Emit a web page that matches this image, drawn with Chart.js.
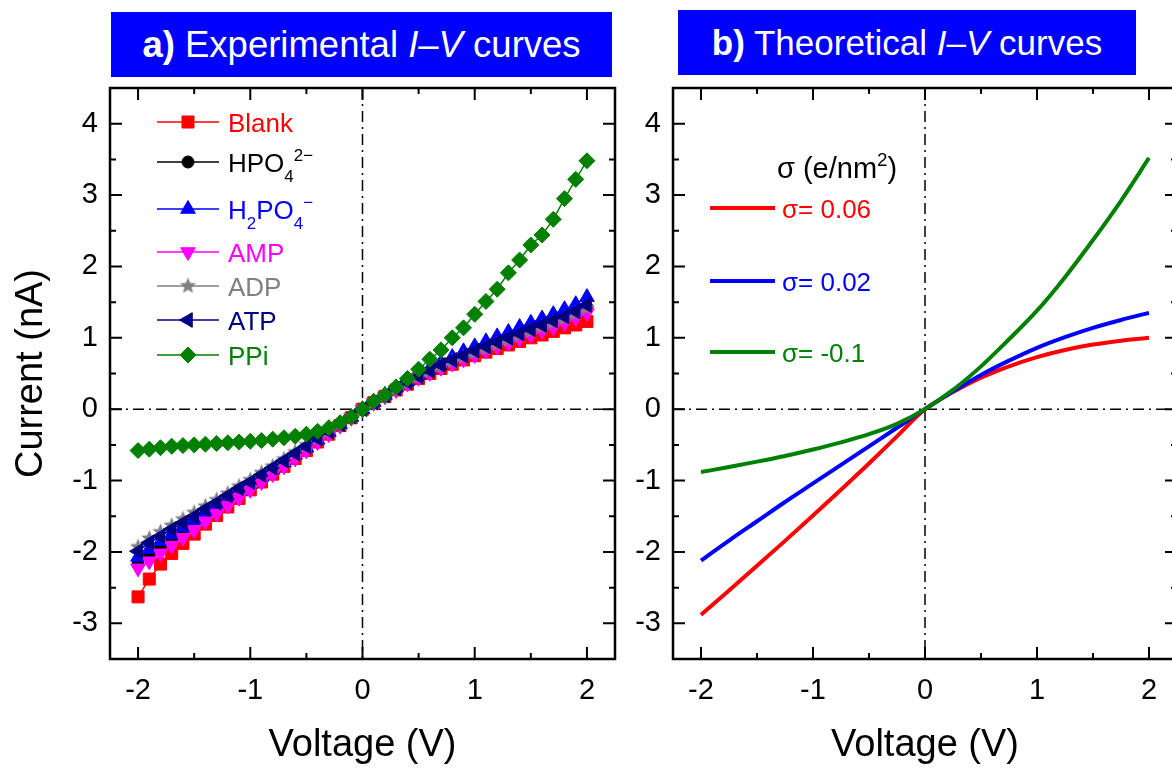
<!DOCTYPE html>
<html>
<head>
<meta charset="utf-8">
<script src="https://cdn.jsdelivr.net/npm/chart.js@4/dist/chart.umd.min.js"></script>
<style>
    html, body { margin: 0; padding: 0; background: #fff; }
    body { position: relative; width: 1172px; height: 769px; overflow: hidden; font-family: "Liberation Sans", Arial, sans-serif; }
    .panel-title { position: absolute; background: #0000ff; color: #fff; font-size: 35px; white-space: pre;
        display: flex; align-items: center; justify-content: center; }
    canvas { position: absolute; top: 0; }
</style>
</head>
<body>
<div class="panel-title" style="left:111px; top:12px; width:501px; height:65px; font-size:36.5px;"><b>a)</b> Experimental <i>I</i>–<i>V</i> curves</div>
<div class="panel-title" style="left:678px; top:10px; width:458px; height:65px;"><b>b)</b> Theoretical <i>I</i>–<i>V</i> curves</div>
<canvas id="chartA" width="640" height="769" style="left:0;"></canvas>
<canvas id="chartB" width="640" height="769" style="left:560px;"></canvas>
<script>
// tick labels
const xTickValues = [-2, -1, 0, 1, 2];
const xMinorValues = [-1.5, -0.5, 0.5, 1.5];
const yTickValues = [-3, -2, -1, 0, 1, 2, 3, 4];
const yMinorValues = [-2.5, -1.5, -0.5, 0.5, 1.5, 2.5, 3.5];

// a) experimental, voltage in V, current in nA
const voltages = [-2.0, -1.9, -1.8, -1.7, -1.6, -1.5, -1.4, -1.3, -1.2, -1.1, -1.0, -0.9, -0.8, -0.7, -0.6, -0.5, -0.4, -0.3, -0.2, -0.1,
    0.0, 0.1, 0.2, 0.3, 0.4, 0.5, 0.6, 0.7, 0.8, 0.9, 1.0, 1.1, 1.2, 1.3, 1.4, 1.5, 1.6, 1.7, 1.8, 1.9, 2.0];
const blank = [-2.63, -2.38, -2.17, -2.02, -1.88, -1.75, -1.61, -1.49, -1.37, -1.25, -1.13, -1.02, -0.91, -0.80, -0.69, -0.58, -0.46, -0.35, -0.23, -0.12,
    0.00, 0.09, 0.18, 0.27, 0.35, 0.43, 0.50, 0.57, 0.63, 0.69, 0.75, 0.80, 0.85, 0.90, 0.95, 1.00, 1.04, 1.09, 1.14, 1.18, 1.23];
const hpo4 = [-2.17, -2.04, -1.92, -1.81, -1.70, -1.59, -1.48, -1.38, -1.27, -1.17, -1.07, -0.96, -0.86, -0.76, -0.65, -0.55, -0.44, -0.33, -0.22, -0.11,
    0.00, 0.09, 0.19, 0.28, 0.37, 0.45, 0.53, 0.60, 0.67, 0.74, 0.80, 0.86, 0.92, 0.98, 1.04, 1.10, 1.16, 1.22, 1.28, 1.35, 1.43];
const h2po4 = [-2.07, -1.96, -1.85, -1.75, -1.65, -1.55, -1.45, -1.35, -1.25, -1.15, -1.05, -0.95, -0.85, -0.75, -0.64, -0.54, -0.43, -0.32, -0.21, -0.11,
    0.00, 0.10, 0.20, 0.30, 0.39, 0.48, 0.57, 0.65, 0.73, 0.81, 0.88, 0.95, 1.02, 1.08, 1.15, 1.21, 1.27, 1.33, 1.40, 1.47, 1.57];
const amp = [-2.23, -2.13, -2.02, -1.91, -1.80, -1.69, -1.57, -1.46, -1.35, -1.24, -1.13, -1.02, -0.91, -0.80, -0.69, -0.58, -0.46, -0.35, -0.23, -0.12,
    0.00, 0.09, 0.18, 0.27, 0.36, 0.44, 0.51, 0.58, 0.64, 0.70, 0.76, 0.82, 0.88, 0.93, 0.99, 1.04, 1.10, 1.15, 1.21, 1.28, 1.35];
const adp = [-1.93, -1.81, -1.72, -1.63, -1.54, -1.45, -1.36, -1.27, -1.18, -1.08, -0.99, -0.89, -0.80, -0.70, -0.60, -0.50, -0.40, -0.30, -0.20, -0.10,
    0.00, 0.09, 0.19, 0.28, 0.37, 0.45, 0.53, 0.60, 0.67, 0.73, 0.79, 0.85, 0.91, 0.97, 1.03, 1.09, 1.15, 1.21, 1.27, 1.34, 1.42];
const atp = [-1.99, -1.87, -1.78, -1.68, -1.59, -1.50, -1.40, -1.31, -1.21, -1.11, -1.02, -0.92, -0.82, -0.72, -0.62, -0.52, -0.41, -0.31, -0.21, -0.10,
    0.00, 0.09, 0.19, 0.29, 0.38, 0.46, 0.54, 0.62, 0.69, 0.75, 0.82, 0.88, 0.94, 1.00, 1.06, 1.12, 1.18, 1.24, 1.30, 1.37, 1.46];
const ppi = [-0.58, -0.56, -0.54, -0.52, -0.51, -0.50, -0.49, -0.48, -0.47, -0.46, -0.45, -0.44, -0.42, -0.40, -0.38, -0.35, -0.31, -0.26, -0.19, -0.11,
    0.00, 0.11, 0.20, 0.31, 0.43, 0.56, 0.70, 0.83, 1.00, 1.14, 1.33, 1.51, 1.68, 1.91, 2.09, 2.30, 2.44, 2.66, 2.95, 3.22, 3.48];

// b) theoretical, sigma in e/nm^2
const theoryVoltages = [-2.0, -1.75, -1.5, -1.25, -1.0, -0.75, -0.5, -0.25, 0.0, 0.25, 0.5, 0.75, 1.0, 1.25, 1.5, 1.75, 2.0];
const sigma006 = [-2.88, -2.54, -2.195, -1.845, -1.49, -1.13, -0.76, -0.38, 0.00, 0.24, 0.44, 0.60, 0.73, 0.83, 0.905, 0.96, 1.00];
const sigma002 = [-2.12, -1.84, -1.57, -1.30, -1.04, -0.78, -0.52, -0.26, 0.00, 0.25, 0.48, 0.68, 0.86, 1.01, 1.14, 1.25, 1.35];
const sigmaNeg01 = [-0.88, -0.81, -0.735, -0.655, -0.565, -0.465, -0.35, -0.205, 0.00, 0.27, 0.60, 0.98, 1.38, 1.85, 2.37, 2.92, 3.52];

const FONT = '"Liberation Sans", Arial, sans-serif';
Chart.defaults.font.family = FONT;
Chart.defaults.color = '#000';

function makeStar(color, r) {
    const c = document.createElement('canvas');
    c.width = c.height = Math.ceil(r * 2 + 2);
    const g = c.getContext('2d');
    const m = c.width / 2;
    g.beginPath();
    for (let i = 0; i < 10; i++) {
        const rr = i % 2 ? r * 0.45 : r;
        const ang = -Math.PI / 2 + i * Math.PI / 5;
        g.lineTo(m + rr * Math.cos(ang), m + rr * Math.sin(ang));
    }
    g.closePath();
    g.fillStyle = color;
    g.fill();
    return c;
}

const seriesColors = ['#ff0000', '#000000', '#0000ff', '#ff00ff', '#808080', '#000080', '#008000'];
const seriesValues = [blank, hpo4, h2po4, amp, adp, atp, ppi];
const seriesLabels = [
    [['Blank']],
    [['HPO'], ['4', 'sub'], ['2\u2212', 'sup']],
    [['H'], ['2', 'sub'], ['PO'], ['4', 'sub'], ['\u2212', 'sup']],
    [['AMP']],
    [['ADP']],
    [['ATP']],
    [['PPi']]
];
const seriesMarkers = [
    { pointStyle: 'rect', radius: 8.5, rotation: 0 },
    { pointStyle: 'circle', radius: 6, rotation: 0 },
    { pointStyle: 'triangle', radius: 8.5, rotation: 0 },
    { pointStyle: 'triangle', radius: 8.5, rotation: 180 },
    { pointStyle: makeStar('#808080', 8.5), radius: 8.5, rotation: 0 },
    { pointStyle: 'triangle', radius: 8.5, rotation: 270 },
    { pointStyle: 'rectRot', radius: 8, rotation: 0 }
];

const theoryColors = ['#ff0000', '#0000ff', '#008000'];
const theoryValues = [sigma006, sigma002, sigmaNeg01];
const theoryLabels = ['\u03c3= 0.06', '\u03c3= 0.02', '\u03c3= -0.1'];

/**
 * Rahmen, nach innen zeigende Ticks auf allen Seiten und gestrichelte Nulllinien
 */
const framePlugin = {
    id: 'frame',
    beforeDatasetsDraw(chart) {
        const { ctx, chartArea: a, scales: { x, y } } = chart;
        const x0 = x.getPixelForValue(0);
        const y0 = y.getPixelForValue(0);
        ctx.save();
        ctx.strokeStyle = '#000';
        ctx.lineWidth = 1.5;
        ctx.setLineDash([11, 5, 2, 5]);
        ctx.beginPath();
        ctx.moveTo(a.left, y0); ctx.lineTo(a.right, y0);
        ctx.moveTo(x0, a.top); ctx.lineTo(x0, a.bottom);
        ctx.stroke();
        ctx.restore();
    },
    afterDatasetsDraw(chart) {
        const { ctx, chartArea: a, scales: { x, y } } = chart;
        ctx.save();
        ctx.strokeStyle = '#000';
        ctx.lineWidth = 2;
        ctx.beginPath();
        const tickX = (v, len) => {
            const px = x.getPixelForValue(v);
            ctx.moveTo(px, a.bottom); ctx.lineTo(px, a.bottom - len);
            ctx.moveTo(px, a.top); ctx.lineTo(px, a.top + len);
        };
        const tickY = (v, len) => {
            const py = y.getPixelForValue(v);
            ctx.moveTo(a.left, py); ctx.lineTo(a.left + len, py);
            ctx.moveTo(a.right, py); ctx.lineTo(a.right - len, py);
        };
        xTickValues.forEach(v => tickX(v, 12));
        xMinorValues.forEach(v => tickX(v, 6));
        yTickValues.forEach(v => tickY(v, 12));
        yMinorValues.forEach(v => tickY(v, 6));
        ctx.stroke();
        ctx.lineWidth = 2.5;
        ctx.strokeRect(a.left, a.top, a.right - a.left, a.bottom - a.top);
        ctx.restore();
    }
};

function drawRichText(ctx, parts, x, baseline, color, baseSize) {
    ctx.fillStyle = color;
    ctx.textBaseline = 'alphabetic';
    ctx.textAlign = 'left';
    let cx = x;
    parts.forEach(([text, kind]) => {
        let size = baseSize, dy = 0;
        if (kind === 'sub') { size = baseSize * 0.65; dy = 10; }
        if (kind === 'sup') { size = baseSize * 0.65; dy = -baseSize * 0.4; }
        ctx.font = size + 'px ' + FONT;
        ctx.fillText(text, cx, baseline + dy);
        cx += ctx.measureText(text).width;
    });
}

/**
 * Legende im Diagramm, mit Linie + Marker und Text mit Indizes
 */
const legendPlugin = {
    id: 'innerLegend',
    afterDraw(chart, args, opts) {
        if (!opts.rows) return;
        const { ctx } = chart;
        ctx.save();
        if (opts.header) drawRichText(ctx, opts.header, opts.headerX, opts.headerY, '#000', 29);
        chart.data.datasets.forEach((ds, i) => {
            const rowY = opts.rows[i];
            ctx.strokeStyle = ds.borderColor;
            ctx.lineWidth = opts.lineWidth;
            ctx.beginPath();
            ctx.moveTo(opts.lineX0, rowY);
            ctx.lineTo(opts.lineX1, rowY);
            ctx.stroke();
            if (ds.pointRadius > 0 && Chart.helpers && Chart.helpers.drawPoint) {
                ctx.fillStyle = ds.pointBackgroundColor;
                ctx.strokeStyle = ds.pointBorderColor;
                ctx.lineWidth = 1;
                Chart.helpers.drawPoint(ctx, {
                    pointStyle: ds.pointStyle, rotation: ds.pointRotation,
                    radius: ds.pointRadius, borderWidth: 1
                }, (opts.lineX0 + opts.lineX1) / 2, rowY);
            }
            drawRichText(ctx, ds.richLabel, opts.textX, rowY + 9.5, ds.borderColor, 26);
        });
        ctx.restore();
    }
};

function xAxis() {
    return {
        type: 'linear', min: -2.25, max: 2.25,
        grid: { display: false, drawTicks: false },
        border: { display: false },
        ticks: { font: { size: 29 }, padding: 15 },
        afterBuildTicks: s => { s.ticks = xTickValues.map(v => ({ value: v })); },
        afterFit: s => { s.height = 110; },
        title: { display: true, text: 'Voltage (V)', font: { size: 38 }, padding: { top: 0, bottom: 1 } }
    };
}

function yAxis(width, withTitle) {
    return {
        type: 'linear', min: -3.5, max: 4.5,
        grid: { display: false, drawTicks: false },
        border: { display: false },
        ticks: { font: { size: 29 }, padding: 12 },
        afterBuildTicks: s => { s.ticks = yTickValues.map(v => ({ value: v })); },
        afterFit: s => { s.width = width; },
        title: { display: withTitle, text: 'Current (nA)', font: { size: 38 }, padding: { top: 9, bottom: 0 } }
    };
}

const datasetsA = seriesValues.map((vals, i) => ({
    label: seriesLabels[i].map(p => p[0]).join(''),
    richLabel: seriesLabels[i],
    data: voltages.map((v, k) => ({ x: v, y: vals[k] })),
    borderColor: seriesColors[i],
    backgroundColor: seriesColors[i],
    pointBackgroundColor: seriesColors[i],
    pointBorderColor: seriesColors[i],
    borderWidth: 1.5,
    pointStyle: seriesMarkers[i].pointStyle,
    pointRadius: seriesMarkers[i].radius,
    pointRotation: seriesMarkers[i].rotation,
    pointBorderWidth: 1,
    order: seriesValues.length - 1 - i
}));

new Chart(document.getElementById('chartA'), {
    type: 'line',
    data: { datasets: datasetsA },
    options: {
        responsive: false,
        animation: false,
        layout: { padding: { left: 0, right: 25, top: 88, bottom: 0 } },
        scales: { x: xAxis(), y: yAxis(110, true) },
        plugins: {
            legend: { display: false },
            tooltip: { enabled: false },
            innerLegend: { rows: [122, 162, 209, 252, 286, 320, 355], lineX0: 157, lineX1: 219, textX: 228, lineWidth: 1.5 }
        }
    },
    plugins: [framePlugin, legendPlugin]
});

const datasetsB = theoryValues.map((vals, i) => ({
    label: theoryLabels[i],
    richLabel: [[theoryLabels[i]]],
    data: theoryVoltages.map((v, k) => ({ x: v, y: vals[k] })),
    borderColor: theoryColors[i],
    borderWidth: 4,
    pointRadius: 0,
    cubicInterpolationMode: 'monotone',
    order: theoryValues.length - 1 - i
}));

new Chart(document.getElementById('chartB'), {
    type: 'line',
    data: { datasets: datasetsB },
    options: {
        responsive: false,
        animation: false,
        layout: { padding: { left: 0, right: 23, top: 88, bottom: 0 } },
        scales: { x: xAxis(), y: yAxis(113, false) },
        plugins: {
            legend: { display: false },
            tooltip: { enabled: false },
            innerLegend: {
                header: [['\u03c3 (e/nm'], ['2', 'sup'], [')']], headerX: 217, headerY: 178,
                rows: [208, 281, 352], lineX0: 150, lineX1: 215, textX: 222, lineWidth: 4
            }
        }
    },
    plugins: [framePlugin, legendPlugin]
});
</script>
</body>
</html>
